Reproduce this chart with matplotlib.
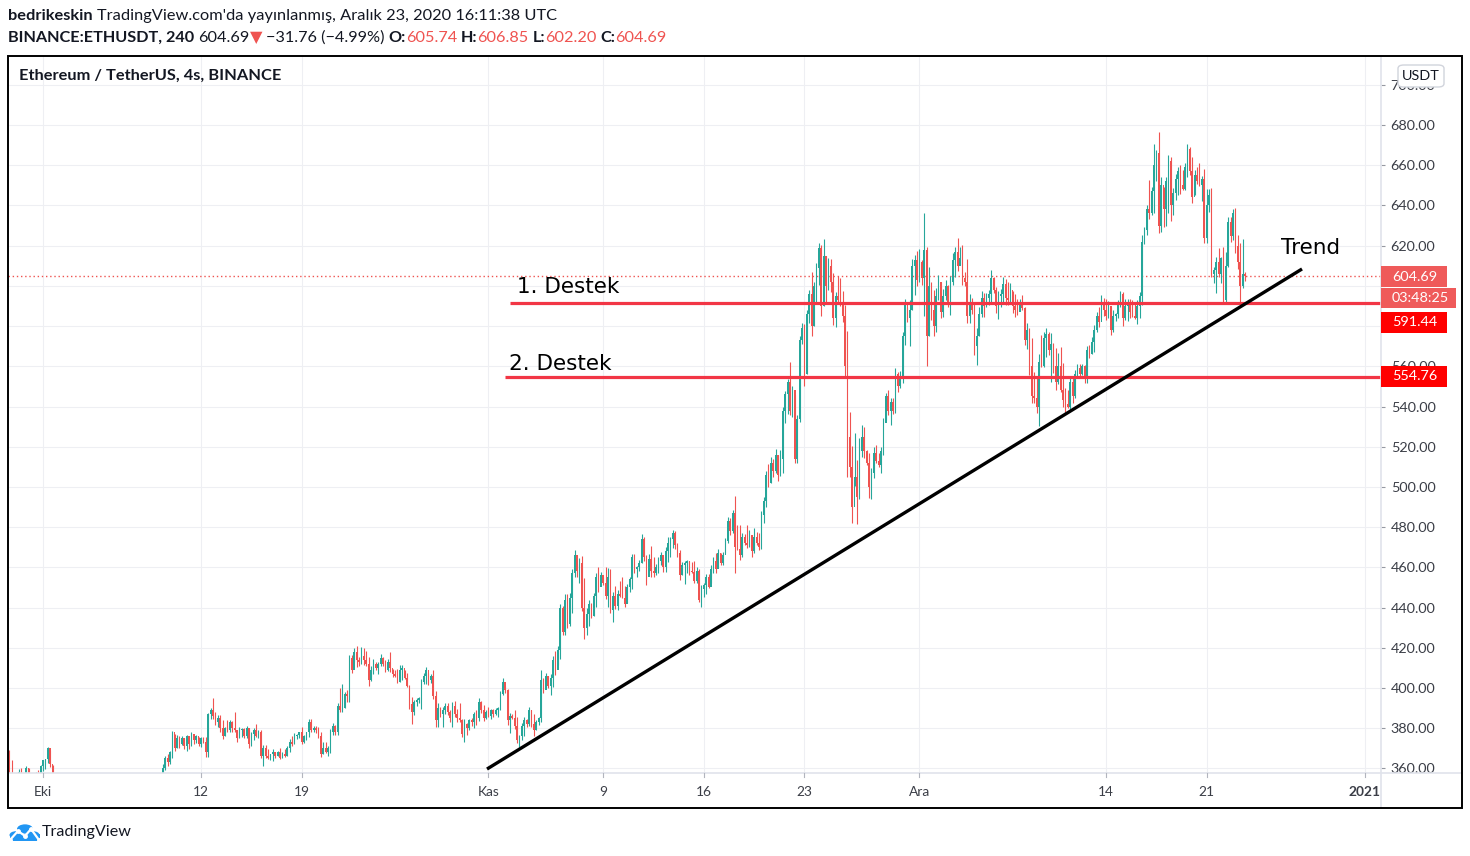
import matplotlib
matplotlib.use("Agg")
import matplotlib.pyplot as plt
import matplotlib.dates as mdates
from matplotlib.patches import Rectangle, FancyBboxPatch, Circle
from matplotlib.lines import Line2D
import matplotlib.transforms as mtransforms
import pandas as pd

# ---- data: ETHUSDT 4h candles, 28 Sep 2020 16:00 -> 23 Dec 2020 16:00 (UTC) ----
first_candle = "2020-09-28 16:00"
first_open = 368.0

closes = [
    356, 352,
    349, 352, 358, 355, 353, 360,
    356, 351, 350, 357, 354, 361,
    364, 364.5, 370, 362, 355, 351,   # Oct 1
    345, 339, 343, 346, 344, 348,
    349, 346, 349, 347, 348, 346,
    347, 350, 348, 351, 352, 350,
    351, 352, 350, 353, 351, 352,
    350, 347, 344, 341, 343, 341,
    342, 340, 341, 343, 341, 342,
    344, 346, 348, 345, 348, 350,
    351, 353, 360, 365, 363, 368,     # Oct 9
    378, 370, 375, 372, 375, 371,
    376, 372, 377, 374, 376, 372,
    375, 373, 368, 387, 389, 386,     # Oct 12
    383, 385, 380, 376, 380, 379,
    383, 380, 379, 375, 379, 379.5,
    376, 380, 372, 377, 379, 376,
    378, 366, 370, 366, 365, 367,
    368, 366, 368, 365, 367, 366,
    370, 373, 372, 376, 376.5, 378,
    373, 376, 378, 383, 379, 380,     # Oct 19
    379, 376, 367, 370, 368, 370,
    378, 381, 378, 391, 389, 390,
    397, 396, 415, 409, 418, 414,
    413, 416, 414, 412, 404, 409,
    412, 410, 412, 415, 412, 409,
    413, 410, 407, 406, 403, 409,
    410, 405, 401, 392, 388, 393,     # Oct 26
    394, 395, 403, 406, 409, 404,
    406, 396, 384, 390, 387, 389,
    391, 388, 385, 391, 387, 385,
    384, 377, 382, 380, 384, 383,
    387, 385, 393, 389, 385, 388,
    386, 389, 387, 389, 390, 397,     # Nov 1
    403, 399, 384, 386, 385, 381,
    374, 376, 381, 384, 382, 389,
    382, 379, 383, 385, 404, 399,
    406, 401, 405, 414, 409, 419,
    440, 428, 444, 432, 445, 457,
    466, 458, 462, 440, 430, 437,
    442, 436, 446, 455, 450, 456,
    452, 446, 455, 439, 446, 441,     # Nov 9
    447, 446, 445, 442, 450, 454,
    465, 459, 460, 462, 474, 465,
    455, 464, 458, 457, 460, 463,
    466, 460, 468, 472, 474, 477,
    471, 467, 456, 461, 462, 463,
    458, 457.5, 453, 458, 444, 449,
    451, 455, 450, 459, 463, 459,     # Nov 16
    467, 462, 466, 473, 483, 478,
    487, 470, 469, 466, 475, 472,
    471, 476, 468, 475, 472, 470,
    486, 493, 506, 502, 512, 508,
    516, 506, 514, 538, 546, 552,
    538, 548, 514, 534, 573, 579,
    556, 586, 596, 580, 600, 609,     # Nov 23
    619, 590, 615, 600, 610, 602,
    584, 595, 593, 592, 585, 560,
    525, 510, 490, 505, 495, 518,
    525, 518, 512, 500, 507, 517,
    513, 511, 518, 532, 545, 538,
    542, 538, 556, 550, 555, 575,
    591, 584, 588, 610, 613, 603,
    612, 604, 618, 575, 600, 588,     # Dec 1
    580, 595, 602, 587, 595, 600,
    592, 602, 613, 617, 610, 614,
    604, 602, 585, 592, 588, 570,
    575, 586, 594, 590, 594, 596,
    604, 598, 590, 595, 596, 601,
    594, 593, 598, 590, 588, 587,
    591, 589, 573, 578, 560, 545,
    544, 540, 562, 560, 574, 576,     # Dec 9
    568, 571, 560, 552, 560, 548,
    543, 541, 540, 552, 545, 556,
    559, 556, 560, 554, 568, 566,
    572, 578, 585, 582, 592, 588,
    585, 590, 578, 585, 586, 591,     # Dec 14
    596, 584, 590, 591, 587, 585,
    584, 590, 595, 622, 628, 638,
    636, 647, 660, 666, 630, 650,
    638, 652, 662, 640, 646, 653,
    657, 650, 648, 659, 668, 657,
    644, 655, 652, 650, 653, 624,
    640, 645, 606, 608, 612, 606,     # Dec 21
    614, 593, 610, 632, 625, 636,
    620, 612, 600, 605.74, 604.69,
]

highs = [
    369, 364.2,
    355, 355, 359.7, 360.2, 357, 361.2,
    360.2, 357, 354, 358.2, 359.2, 361.7,
    364.2, 364.8, 370.6, 369.1, 361.7, 357,
    353, 347, 346, 349, 348, 351,
    352, 350, 351, 350, 350, 349,
    349, 352, 351, 353, 354, 354,
    353, 355, 354, 355, 354, 354,
    354, 352, 349, 346, 346, 345,
    345, 344, 344, 345, 345, 345,
    346, 349, 350, 349, 351, 353,
    354, 356, 362.2, 366.3, 367, 368.6,
    378.6, 377.1, 376.4, 376.1, 376.1, 375.1,
    376.6, 374.1, 378.1, 376.6, 376.4, 375.4,
    375.4, 375.8, 375.8, 387.5, 389.9, 395,
    388, 386.5, 386.5, 384.1, 380.7, 384.1,
    384.1, 383.7, 387.9, 378.6, 380.4, 380.2,
    380.2, 381.1, 379.9, 378, 380, 381.9,
    379, 379, 371.6, 371.6, 369.9, 367.4,
    369.9, 368.3, 368.8, 370.4, 368.3, 369.9,
    371, 374.8, 376.1, 377.4, 377.1, 378.1,
    380.7, 376.4, 378.1, 384.4, 384.4, 381.1,
    381.1, 380.4, 378.2, 373.1, 373.1, 371.4,
    379.7, 382.5, 381.4, 392.3, 399.8, 402,
    398, 399, 416.2, 416.2, 419.7, 420.8,
    415.5, 420.2, 419.7, 418.5, 415.2, 410.9,
    414.2, 413, 413, 416.9, 415.5, 413.9,
    414.5, 417.9, 409.7, 408.9, 409.7, 411.6,
    411.4, 409.2, 407.6, 401.5, 395.6, 394,
    394.8, 395.6, 404.3, 407.6, 410.2, 407.6,
    407.2, 409.2, 398.6, 392.3, 390.7, 390.7,
    392.7, 392.7, 389.3, 393.2, 393.7, 389.8,
    392.3, 384.4, 384.4, 382.4, 384.4, 385.1,
    387.9, 389, 394.9, 393.7, 391.4, 389,
    390.7, 389.4, 389.4, 390.2, 390.5, 398.5,
    405, 401, 399.3, 387.4, 386.9, 389,
    385.7, 376.5, 382.4, 385.4, 384.7, 390.4,
    389, 387, 384.1, 385.4, 409, 404.8,
    407.6, 406, 407, 415.9, 418.6, 421,
    441.8, 441, 446.7, 446.7, 447.1, 459,
    468.6, 461.7, 464.5, 465.6, 454.7, 439.6,
    443.8, 442.4, 447.1, 457, 460.3, 457.9,
    455.4, 460, 459.5, 459, 447.7, 450.7,
    448.7, 453, 455, 450.7, 451.7, 455.4,
    466.6, 466.6, 460.5, 463.6, 476.6, 475,
    466, 466.6, 470.6, 465, 461.7, 465.3,
    467.8, 465.3, 470, 474.9, 475.3, 478.6,
    478.2, 472.3, 468.6, 462.8, 463, 463.6,
    463, 462.7, 463.3, 460, 459, 451.2,
    452, 456.7, 456.7, 461.2, 465.3, 467,
    469, 467, 467.8, 474.4, 485.2, 484.4,
    488.5, 495.5, 481, 481, 476.9, 476.6,
    481, 478.6, 476, 479.4, 477.7, 477.2,
    488, 494.8, 508.1, 511.4, 514.7, 513.7,
    518.7, 515.9, 518.4, 539.6, 547.9, 553.5,
    562.3, 550.2, 545.7, 535.8, 575.1, 581.4,
    581, 588, 598, 607, 602.1, 611.5,
    621.5, 620.3, 623.5, 615, 613.7, 613.2,
    606.2, 597.1, 604.9, 603.7, 597.6, 590.5,
    577.7, 537.4, 520.3, 527, 513.4, 524.2,
    530.8, 529.6, 518.4, 517, 509.2, 519.7,
    520.8, 516.7, 520, 534.1, 546.9, 548.2,
    544.1, 544.1, 559, 557.3, 557.8, 577.2,
    593.3, 589.3, 593, 613.2, 615.3, 617.5,
    618.2, 612.9, 636.4, 619.5, 609.5, 602.1,
    598, 598.8, 605.4, 602, 598.3, 602.9,
    600.4, 604.9, 616.5, 619.5, 623.6, 619.5,
    620.3, 607.1, 613.2, 595.9, 593.8, 591.3,
    578.9, 589.7, 597.6, 596.3, 596.6, 597.9,
    607.9, 604.6, 599.3, 597.6, 598.3, 604.2,
    603.2, 602.1, 601.3, 597.6, 595.8, 593.3,
    593.3, 595.4, 589.7, 581.4, 578.9, 573.9,
    557, 554, 566.1, 575.6, 577.2, 578.9,
    577, 576.4, 571.4, 568.9, 566.4, 569.4,
    561.5, 549, 548.2, 555.2, 554.8, 558.2,
    561.1, 561.1, 561.1, 560.5, 570.3, 570.6,
    574.7, 580.5, 587.2, 589.7, 595.4, 593.8,
    593.3, 592.6, 589.3, 588, 586.7, 593,
    597.6, 597, 593.3, 593.3, 593.3, 593,
    592.1, 593, 597.1, 625.3, 629.4, 640.2,
    652.7, 649.3, 670.5, 667.6, 676.7, 654.3,
    649.3, 654.3, 665.2, 664, 648.5, 655.6,
    659.3, 660.1, 657.6, 661.3, 670.5, 669.2,
    664.3, 657.6, 659.3, 661.3, 654.6, 657.9,
    648, 648, 648.5, 609.5, 614.2, 618.7,
    614.5, 619.2, 617, 634.4, 634.1, 638,
    638.6, 625.3, 621.2, 623.1, 606.85,
]

lows = [
    353, 350,
    346, 347, 351, 353, 350, 352,
    353, 348, 347, 349, 352, 353,
    358.9, 359.9, 362.8, 360.9, 352, 348,
    342, 336, 337, 341, 340, 343,
    345, 344, 345, 345, 345, 344,
    344, 345, 346, 347, 349, 348,
    348, 349, 348, 349, 349, 349,
    348, 344, 341, 338, 339, 338,
    338, 337, 338, 339, 339, 339,
    340, 342, 344, 343, 344, 346,
    348, 349, 352, 359.2, 361, 362.2,
    365, 368.6, 370, 370.3, 371.6, 369.5,
    368.8, 369.5, 371.1, 372.1, 372.5, 371.1,
    370.6, 372.5, 365.8, 365.8, 384.7, 384.7,
    381.6, 380.7, 378.3, 374.8, 376.1, 378.1,
    378, 378.1, 378.1, 373.3, 374.9, 375.4,
    374.9, 375.1, 370.4, 371, 374, 375.4,
    375, 365, 361.3, 365, 364.5, 364.1,
    363.6, 365, 366, 364.5, 365, 365.5,
    366, 368.1, 371.1, 372.4, 374.6, 374.9,
    372.4, 372.8, 374.1, 375.8, 378.1, 378.1,
    377.7, 374.9, 365.5, 367.1, 367.8, 366.1,
    367.8, 376.6, 376.6, 376.6, 388.2, 388.2,
    390.3, 393, 393.2, 407.6, 413, 410.6,
    410.9, 412, 411.4, 410.9, 401, 403.5,
    407.2, 409.2, 407.2, 410.9, 410.9, 407.9,
    408.5, 408.1, 405.3, 405.6, 402.3, 403,
    403.9, 404.4, 400.3, 389.8, 382, 386.5,
    391, 392.3, 389.8, 401.8, 401.9, 401.5,
    402.3, 394.3, 380.7, 380.7, 385.7, 380.7,
    387, 386.5, 383.2, 380.7, 385.7, 383.2,
    383.2, 375.4, 373.1, 376.6, 379.1, 381.1,
    380, 381.6, 383.7, 387.4, 383.7, 384.7,
    385.4, 384.7, 385.7, 386.4, 385.4, 389,
    396.7, 397.3, 381.8, 377.8, 384.4, 379.4,
    372.5, 370.8, 374.1, 376.1, 380.4, 381.1,
    380.8, 376.1, 379.1, 381.4, 383.2, 397.7,
    400.7, 400, 396.4, 400.3, 406.6, 411.4,
    414.6, 426.2, 426.2, 430, 431, 437.1,
    455, 455.4, 452.4, 438.4, 424.2, 426.2,
    430.8, 434.6, 435.8, 440.4, 447.9, 452.9,
    451.1, 444.1, 440.4, 437.1, 433, 439.1,
    438.8, 445.4, 444.6, 440.4, 442.1, 447.9,
    449.4, 457.4, 455.4, 458.3, 462, 463.3,
    451.2, 457.8, 455.4, 455.4, 456.2, 457.4,
    461.2, 457.8, 457.8, 462.8, 465, 469.4,
    469, 465, 453.7, 456.2, 451.7, 457.4,
    456.2, 457.4, 452, 452, 442.9, 440.4,
    445.4, 447, 449.6, 452.1, 457, 457,
    459.5, 461.2, 461.2, 467, 472, 476.1,
    476.9, 457, 468.6, 463.6, 465, 471.1,
    469.4, 470, 465, 467, 471.1, 468.6,
    469, 481.9, 490.2, 500.1, 502, 505.1,
    507, 503.1, 505.5, 506.8, 531.6, 536.3,
    535.8, 534.6, 511.7, 512, 532.5, 571.1,
    550.4, 556, 581.4, 575, 580, 591.3,
    600.4, 585, 590, 592.1, 597.9, 597.1,
    580.5, 579.4, 591.3, 590, 582.2, 554,
    505.1, 505.1, 482.2, 500.4, 481.5, 494,
    515.1, 514.2, 510.9, 494.3, 493.8, 504.3,
    511.7, 509.7, 506.8, 515.9, 533.3, 535.8,
    530.8, 536.3, 537, 547.4, 549, 551.5,
    570.6, 582.2, 570.1, 588, 595.5, 600,
    602.1, 600.4, 585, 560.1, 575, 583,
    575.1, 577.2, 593, 583.8, 584.7, 593,
    589.3, 585.5, 600.4, 604.6, 607.5, 610.4,
    600.4, 600, 581.4, 581.4, 586, 565.6,
    560.6, 575.1, 584.7, 584.3, 589.7, 590.5,
    592.1, 596.3, 586.3, 583.3, 589.7, 591,
    590.5, 590.5, 592.1, 586.3, 584.7, 585.5,
    588, 588, 570.6, 568.4, 555.7, 541.9,
    541.6, 536.9, 530.3, 559.8, 559.8, 564.8,
    565.6, 552.4, 556.5, 548.2, 551, 547.4,
    539.9, 537.4, 539.1, 539, 541.9, 544.1,
    554, 554, 555.7, 551.5, 551.8, 564,
    566, 567.3, 577.2, 579.7, 584.7, 585,
    583, 583.8, 575.6, 577, 582.7, 583.8,
    589.3, 580, 583, 582.7, 583.8, 584.7,
    583.4, 581, 583.9, 590.5, 620.8, 625.3,
    633.1, 635.3, 636.1, 652.3, 626.1, 626.9,
    629.4, 629.8, 636.1, 632.4, 635.2, 642.7,
    645.2, 645.7, 647.7, 647.7, 654, 655.1,
    641, 645.2, 650.7, 649.7, 642.4, 621.2,
    621.2, 636.9, 604.6, 601.3, 596.3, 604.6,
    601.6, 591.6, 591.3, 609.5, 622, 622.8,
    616.2, 608.2, 592.1, 598.8, 602.2,
]

price_ticks = [360, 380, 400, 420, 440, 460, 480, 500, 520, 540,
               560, 580, 600, 620, 640, 660, 680, 700]
hidden_price_labels = [580, 600]   # fully covered by the price boxes in the snapshot
date_ticks = ["2020-10-01", "2020-10-12", "2020-10-19", "2020-11-01", "2020-11-09",
              "2020-11-16", "2020-11-23", "2020-12-01", "2020-12-14", "2020-12-21",
              "2021-01-01"]
date_labels = ["Eki", "12", "19", "Kas", "9", "16", "23", "Ara", "14", "21", "2021"]

# support lines (drawings) and trend line
support_levels = [591.44, 554.76]
support_starts = ["2020-11-02 12:00", "2020-11-02 04:00"]
support_names = ["1. Destek", "2. Destek"]
support_label_pos = [("2020-11-03 00:00", 596.4), ("2020-11-02 10:00", 558.2)]
trend_times = ["2020-10-31 21:45", "2020-12-27 15:20"]
trend_prices = [359.7, 608.4]
trend_label_pos = ("2020-12-26 04:20", 615.8)
last_price = 604.69

# ---- figure ----
W, H = 1470, 856
GREEN, RED = "#26a69a", "#ef5350"
DARK = "#131722"
UI = ["Lato", "DejaVu Sans"]
plt.rcParams["font.family"] = UI

fig = plt.figure(figsize=(W / 100, H / 100), dpi=100)
fig.patch.set_facecolor("white")
renderer = fig.canvas.get_renderer()


def fx(px):
    return px / W


def fy(py):
    return 1 - py / H


def measure(s, size, weight="normal", family=UI):
    t = fig.text(0, 0, s, fontsize=size, fontweight=weight, family=family)
    w = t.get_window_extent(renderer=renderer).width
    t.remove()
    return w


def advance(s, size, weight="normal", family=UI):
    return measure("|" + s + "|", size, weight, family) - measure("||", size, weight, family)


def fit_size(s, target_px, weight="normal", family=UI, base=10.0):
    return base * target_px / measure(s, base, weight, family)


def place_runs(x, y, parts, target_w, base=10.0):
    # parts: (text, weight, color, space_before)
    total = 0.0
    for s, wt, c, sp in parts:
        total += advance(s, base, wt) + (advance(" ", base, wt) if sp else 0)
    size = base * target_w / total
    for s, wt, c, sp in parts:
        if sp:
            x += advance(" ", size, wt)
        fig.text(fx(x), fy(y), s, fontsize=size, fontweight=wt, color=c,
                 ha="left", va="center")
        x += advance(s, size, wt)


# main chart axes (pixel box 8..1381 x 56..773)
ax = fig.add_axes([fx(8), fy(773), (1381 - 8) / W, (773 - 56) / H])
times = pd.date_range(first_candle, periods=len(closes), freq="4h")
xs = mdates.date2num(times)
opens = [first_open] + closes[:-1]
cols = [GREEN if c >= o else RED for o, c in zip(opens, closes)]

ax.vlines(xs, lows, highs, colors=cols, linewidth=0.8, zorder=3)
ax.bar(xs, [abs(c - o) for o, c in zip(opens, closes)],
       bottom=[min(o, c) for o, c in zip(opens, closes)],
       width=0.11, color=cols, linewidth=0, zorder=3)

px_per_day = 14.366
oct1 = mdates.date2num(pd.Timestamp("2020-10-01"))
ax.set_xlim(oct1 - 35 / px_per_day, oct1 + 1338 / px_per_day)
ax.set_ylim(357.73, 714.32)

tick_x = mdates.date2num(pd.to_datetime(date_ticks))
ax.set_xticks(tick_x)
ax.set_yticks(price_ticks)
ax.grid(True, color="#eeeff3", linewidth=0.8, zorder=0)
ax.tick_params(axis="x", length=0, labelbottom=False)
price_size = fit_size("680.00", 45)
ax.yaxis.tick_right()
ax.set_yticklabels(["" if v in hidden_price_labels else f"{v:.2f}" for v in price_ticks])
ax.tick_params(axis="y", length=3, width=0.8, color="#9598a1", pad=4,
               labelsize=price_size, labelcolor="#3b3e47")
for s in ax.spines.values():
    s.set_visible(False)

# last price dotted line
ax.axhline(last_price, color=RED, linewidth=1, linestyle=(0, (1, 2)), zorder=2)

# support lines
for lvl, start, name, (lt, lp) in zip(support_levels, support_starts, support_names,
                                      support_label_pos):
    ax.hlines(lvl, mdates.date2num(pd.Timestamp(start)), ax.get_xlim()[1],
              color="#f23645", linewidth=2.3, zorder=4)
    ax.text(mdates.date2num(pd.Timestamp(lt)), lp, name, fontsize=15.5,
            family="DejaVu Sans", color="black", va="baseline", ha="left", zorder=5)

# trend line
ax.plot(mdates.date2num(pd.to_datetime(trend_times)), trend_prices, color="black",
        linewidth=2.4, solid_capstyle="butt", zorder=5)
ax.text(mdates.date2num(pd.Timestamp(trend_label_pos[0])), trend_label_pos[1], "Trend",
        fontsize=15.5, family="DejaVu Sans", color="black", va="baseline", ha="left",
        zorder=5)

# time axis strip (covers the price labels below the chart)
fig.patches.append(Rectangle((fx(8), fy(808)), (1462 - 8) / W, (808 - 773.5) / H,
                             transform=fig.transFigure, facecolor="white",
                             edgecolor="none", zorder=2))
fig.lines.append(Line2D([fx(8), fx(1462)], [fy(773), fy(773)], transform=fig.transFigure,
                        color="#e0e3eb", linewidth=1.2, zorder=3))
fig.lines.append(Line2D([fx(1381), fx(1381)], [fy(56), fy(808)], transform=fig.transFigure,
                        color="#e0e3eb", linewidth=1.2, zorder=3))

blend = mtransforms.blended_transform_factory(ax.transData, fig.transFigure)
time_size = fit_size("2021", 32, weight="bold")
for xv, lab in zip(tick_x, date_labels):
    fig.lines.append(Line2D([xv, xv], [fy(773), fy(777)], transform=blend,
                            color="#b2b5be", linewidth=0.8, zorder=3))
    fig.text(xv, fy(792), lab, transform=blend, ha="center", va="center",
             fontsize=time_size, color="#3b3e47",
             fontweight="bold" if lab == "2021" else "normal", zorder=4)


# price boxes on the right scale
def px_box(x0, y0, x1, y1, color, label):
    fig.patches.append(Rectangle((fx(x0), fy(y1)), (x1 - x0) / W, (y1 - y0) / H,
                                 transform=fig.transFigure, facecolor=color,
                                 edgecolor="none", zorder=6))
    fig.text(fx(x0 + 11), fy((y0 + y1) / 2), label, ha="left", va="center",
             fontsize=price_size, color="white", zorder=7)


px_box(1381, 266, 1447, 287, "#ef5a5a", f"{last_price:.2f}")
px_box(1381, 288, 1456, 308, "#ef5a5a", "03:48:25")
px_box(1381, 312, 1447, 333, "#ff0000", f"{support_levels[0]:.2f}")
px_box(1381, 366, 1447, 387, "#ff0000", f"{support_levels[1]:.2f}")

# USDT currency badge
fig.patches.append(FancyBboxPatch((fx(1398), fy(87)), (1444 - 1398) / W, (87 - 65) / H,
                                  boxstyle="round,pad=0,rounding_size=0.004",
                                  transform=fig.transFigure, facecolor="white",
                                  edgecolor="#d1d4dc", linewidth=1, zorder=6))
fig.text(fx(1421), fy(76), "USDT", ha="center", va="center", fontsize=price_size,
         color=DARK, zorder=7)

# chart frame
fig.patches.append(Rectangle((fx(8), fy(808)), (1462 - 8) / W, (808 - 56) / H,
                             transform=fig.transFigure, facecolor="none",
                             edgecolor="black", linewidth=1.4, zorder=8))

# titles
fig.text(fx(19), fy(76), "Ethereum / TetherUS, 4s, BINANCE", ha="left", va="center",
         fontsize=fit_size("Ethereum / TetherUS, 4s, BINANCE", 263, weight="bold"),
         fontweight="bold", color=DARK)

place_runs(8, 16, [("bedrikeskin", "bold", DARK, False),
                   ("TradingView.com'da yayınlanmış, Aralık 23, 2020 16:11:38 UTC",
                    "normal", DARK, True)], 547)
place_runs(8, 38, [("BINANCE:ETHUSDT, 240", "bold", DARK, False),
                   ("604.69", "normal", DARK, True),
                   ("▼", "normal", RED, False),
                   ("−31.76 (−4.99%)", "normal", DARK, True),
                   ("O:", "bold", DARK, True), ("605.74", "normal", RED, False),
                   ("H:", "bold", DARK, True), ("606.85", "normal", RED, False),
                   ("L:", "bold", DARK, True), ("602.20", "normal", RED, False),
                   ("C:", "bold", DARK, True), ("604.69", "normal", RED, False)], 660)

# TradingView footer logo
BLUE = "#2196f3"
for cx, cy, r in [(16, 835, 6.5), (25, 829, 8), (33, 835, 6.5)]:
    fig.patches.append(Circle((fx(cx), fy(cy)), r / W, transform=fig.transFigure,
                              facecolor=BLUE, edgecolor="none", zorder=3))
fig.patches.append(Rectangle((fx(10), fy(841)), 30 / W, 7 / H, transform=fig.transFigure,
                             facecolor=BLUE, edgecolor="none", zorder=3))
fig.lines.append(Line2D([fx(10), fx(18), fx(25), fx(31), fx(39)],
                        [fy(840), fy(831), fy(836), fy(829), fy(840)],
                        transform=fig.transFigure, color="white", linewidth=1.6,
                        marker="o", markersize=2.5, zorder=4))
fig.text(fx(42), fy(832), "TradingView", ha="left", va="center",
         fontsize=fit_size("TradingView", 90), color=DARK)

fig.savefig("out.png", dpi=100)
